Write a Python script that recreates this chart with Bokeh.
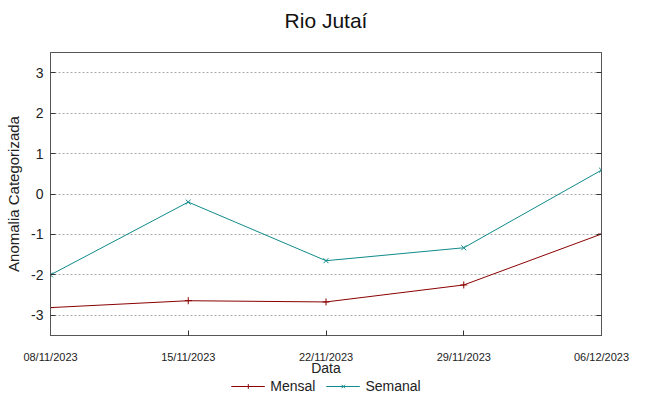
from datetime import datetime
from bokeh.plotting import figure
from bokeh.layouts import column
from bokeh.models import (Range1d, FixedTicker, DatetimeTickFormatter, LinearAxis,
                          Legend, LegendItem, ColumnDataSource, PrintfTickFormatter, Label)
from bokeh.embed import file_html
from bokeh.resources import INLINE

title_text = "Rio Jutaí"
dates = ["08/11/2023", "15/11/2023", "22/11/2023", "29/11/2023", "06/12/2023"]
mensal = [-2.81, -2.64, -2.67, -2.25, -0.99]
semanal = [-2.00, -0.20, -1.65, -1.33, 0.59]
y_ticks = [-3, -2, -1, 0, 1, 2, 3]
series_names = ["Mensal", "Semanal"]
series_colors = ["#8b0000", "#108a8a"]
series_markers = ["cross", "x"]

x = [datetime.strptime(d, "%d/%m/%Y") for d in dates]
src = ColumnDataSource(dict(x=x, mensal=mensal, semanal=semanal))


def strip(h):
    f = figure(width=649, height=h, output_backend="svg", toolbar_location=None,
               min_border=0, x_range=Range1d(0, 1), y_range=Range1d(0, 1))
    f.axis.visible = False
    f.grid.visible = False
    f.outline_line_color = None
    return f


# title strip
t = strip(40)
t.add_layout(Label(x=0.5, y=0.5, text=title_text, text_align="center", text_baseline="middle",
                   text_font="Liberation Sans", text_font_size="21px", text_color="#111111"))

# main chart
p = figure(width=649, height=338, x_axis_type="datetime", output_backend="svg",
           toolbar_location=None, min_border_left=50, min_border_right=48,
           min_border_top=12, min_border_bottom=43,
           x_range=Range1d(x[0], x[-1]), y_range=Range1d(-3.5, 3.5))

xt = [d.timestamp() * 1000 for d in x]
p.xaxis.ticker = FixedTicker(ticks=xt)
p.xaxis.formatter = DatetimeTickFormatter(days="%d/%m/%Y", months="%d/%m/%Y", hours="%d/%m/%Y")
p.yaxis.ticker = FixedTicker(ticks=y_ticks)
p.yaxis.formatter = PrintfTickFormatter(format="%d")

for ax in [p.xaxis[0], p.yaxis[0]]:
    ax.major_tick_in = 5
    ax.major_tick_out = 0
    ax.minor_tick_line_color = None
    ax.axis_line_color = "#555555"
    ax.major_tick_line_color = "#333333"
    ax.major_label_text_color = "#222222"
    ax.axis_label_text_font_style = "normal"
    ax.axis_label_text_color = "#222222"

p.xaxis.major_label_text_font = "Liberation Sans"
p.xaxis.major_label_text_font_size = "11px"
p.xaxis.major_label_standoff = 15
p.xaxis.axis_label = "Data"
p.xaxis.axis_label_text_font = "Liberation Sans"
p.xaxis.axis_label_text_font_size = "14px"
p.xaxis.axis_label_standoff = -6

p.yaxis.major_label_text_font = "Liberation Sans"
p.yaxis.major_label_text_font_size = "14px"
p.yaxis.major_label_standoff = 7
p.yaxis.axis_label = "Anomalia Categorizada"
p.yaxis.axis_label_text_font = "Liberation Sans"
p.yaxis.axis_label_text_font_size = "15px"
p.yaxis.axis_label_standoff = 6

p.outline_line_color = "#555555"
p.xgrid.grid_line_color = None
p.ygrid.ticker = FixedTicker(ticks=y_ticks)
p.ygrid.grid_line_color = "#a8a8a8"
p.ygrid.grid_line_dash = "2 2"

r_ax = LinearAxis(ticker=FixedTicker(ticks=y_ticks), major_label_text_font_size="0px",
                  major_tick_in=5, major_tick_out=0, minor_tick_line_color=None,
                  axis_line_color="#555555", major_tick_line_color="#333333",
                  major_label_standoff=0)
p.add_layout(r_ax, "right")

p.line("x", "mensal", source=src, line_color=series_colors[0], line_width=1)
p.scatter("x", "mensal", source=src, marker=series_markers[0], size=7, line_color=series_colors[0])
p.line("x", "semanal", source=src, line_color=series_colors[1], line_width=1)
p.scatter("x", "semanal", source=src, marker=series_markers[1], size=7, line_color=series_colors[1])

# legend strip below the chart (gnuplot-style key under the axis)
q = strip(18)
items = []
nan_src = ColumnDataSource(dict(x=[float("nan")], y=[float("nan")]))
for name, col, mk in zip(series_names, series_colors, series_markers):
    rl = q.line("x", "y", source=nan_src, line_color=col, line_width=1)
    rm = q.scatter("x", "y", source=nan_src, marker=mk, size=7, line_color=col)
    items.append(LegendItem(label=name, renderers=[rl, rm]))
legend = Legend(items=items, orientation="horizontal", location="top_center",
                label_text_font="Liberation Sans", label_text_font_size="14px",
                label_text_color="#222222",
                border_line_color=None, background_fill_alpha=0,
                padding=0, margin=0, spacing=10, glyph_width=34, label_standoff=6,
                label_height=12, glyph_height=12)
q.add_layout(legend, "center")

layout = column(t, p, q, spacing=0)
open("out.html", "w").write(file_html(layout, INLINE))
